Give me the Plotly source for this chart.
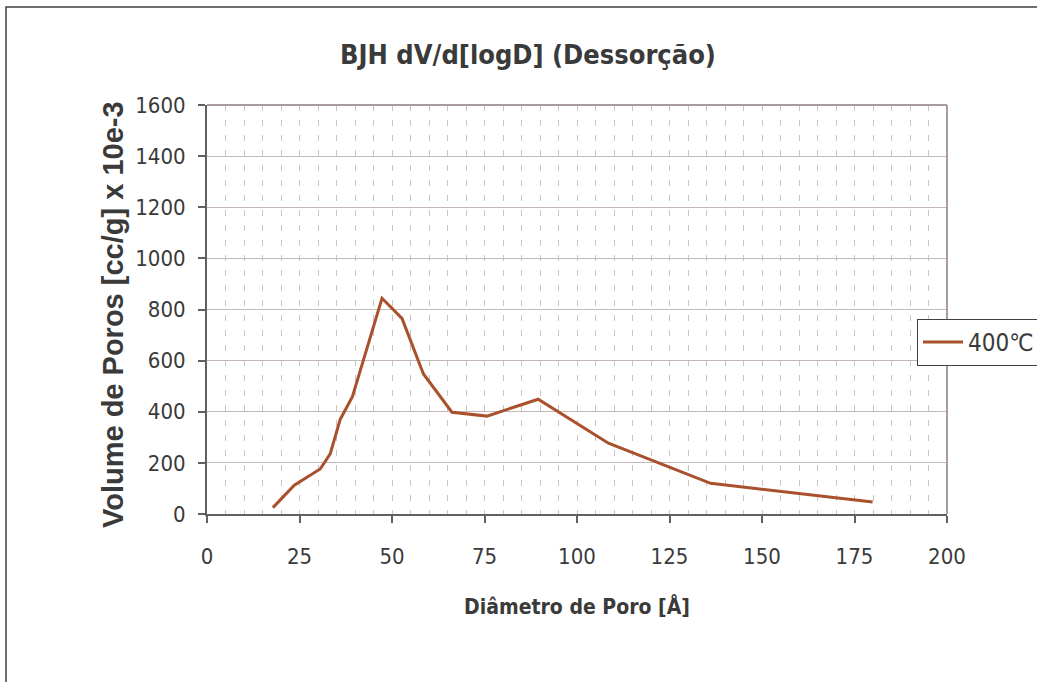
import plotly.graph_objects as go

# Data
diametro = [17.8, 23.6, 30.6, 33.3, 36.0, 39.3, 47.3, 52.7, 58.5, 66.2, 75.7, 89.5, 108.5, 136.1, 179.9]
volume = [25, 113, 176, 235, 370, 459, 844, 765, 548, 398, 383, 449, 277, 120, 47]
serie_nome = "400℃"
titulo = "BJH dV/d[logD] (Dessorção)"
x_titulo = "Diâmetro de Poro [Å]"
y_titulo = "Volume de Poros [cc/g] x 10e-3"

W, H = 1037, 682
L, R, T, B = 207, 947, 105, 514

NARROW = "Liberation Sans Narrow, Arial Narrow, DejaVu Sans Condensed, sans-serif"
BOLD = "Liberation Sans, Arial, sans-serif"
TXT = "#3a3a3a"

fig = go.Figure()
fig.add_trace(go.Scatter(
    x=diametro, y=volume, mode="lines", name=serie_nome,
    line=dict(color="#A9502C", width=3),
))

pw, ph = R - L, B - T
def px(x):
    return (x - L) / pw
def py(y):
    return (B - y) / ph

fig.update_layout(
    width=W, height=H,
    margin=dict(l=L, r=W - R, t=T, b=H - B, autoexpand=False),
    paper_bgcolor="white", plot_bgcolor="white",
    title=dict(text="<b>" + titulo + "</b>", x=px(528), xref="paper", xanchor="center",
               y=1 - 55 / H, yanchor="middle",
               font=dict(family=NARROW, size=27, color=TXT)),
    showlegend=True,
    legend=dict(x=px(917), y=py(319), xanchor="left", yanchor="top",
                bordercolor="#404040", borderwidth=1, bgcolor="white",
                font=dict(family=NARROW, size=24, color=TXT),
                itemwidth=40, tracegroupgap=0),
    xaxis=dict(
        range=[0, 200], dtick=25, tick0=0,
        showline=True, linecolor="#606060", linewidth=2,
        ticks="outside", ticklen=7, tickcolor="#606060", tickwidth=1.5,
        ticklabelstandoff=15,
        showgrid=True, gridcolor="#cbc3c3", gridwidth=1, griddash="6px,9px",
        minor=dict(dtick=5, showgrid=True, gridcolor="#cbc3c3", gridwidth=1, griddash="6px,9px"),
        zeroline=False,
        tickfont=dict(family=NARROW, size=22, color=TXT),
        title=dict(text="<b>" + x_titulo + "</b>", standoff=31,
                   font=dict(family=NARROW, size=21, color=TXT)),
    ),
    yaxis=dict(
        range=[0, 1600], dtick=200, tick0=0,
        showline=True, linecolor="#606060", linewidth=2,
        ticks="outside", ticklen=7, tickcolor="#606060", tickwidth=1.5,
        ticklabelstandoff=8,
        showgrid=True, gridcolor="#c4b8b6", gridwidth=1,
        zeroline=False,
        tickfont=dict(family=NARROW, size=22, color=TXT),
    ),
)

# y-axis title placed as a rotated annotation
fig.add_annotation(text="<b>" + y_titulo + "</b>", xref="paper", yref="paper",
                   x=px(113), y=py(315), xanchor="center", yanchor="middle",
                   textangle=-90, showarrow=False,
                   font=dict(family=BOLD, size=29, color=TXT))

# plot-area top and right borders
fig.add_shape(type="line", xref="paper", yref="paper", x0=0, x1=1, y0=1, y1=1,
              line=dict(color="#a89c9c", width=2))
fig.add_shape(type="line", xref="paper", yref="paper", x0=1, x1=1, y0=0, y1=1,
              line=dict(color="#a89c9c", width=2))
# outer chart border (extends beyond the window at right and bottom)
fig.add_shape(type="rect", xref="paper", yref="paper",
              x0=px(6), x1=px(W + 20), y0=py(H + 20), y1=py(7),
              line=dict(color="#404040", width=1.5), layer="below")

fig.write_html("out.html")
